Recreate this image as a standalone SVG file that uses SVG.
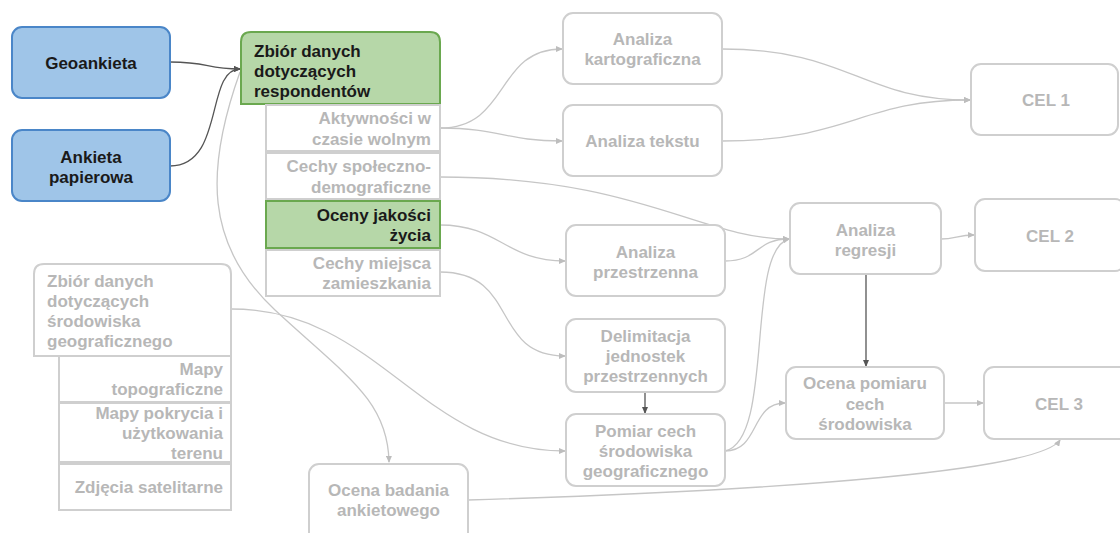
<svg xmlns="http://www.w3.org/2000/svg" width="1120" height="533" viewBox="0 0 1120 533">
<style>
text{font-family:"Liberation Sans",Arial,sans-serif;font-weight:bold;font-size:17px}
.t{fill:#b7b7b7}
.d{fill:#1a1a1a}
.c{text-anchor:middle}
.r{text-anchor:end}
.g{fill:#fff;stroke:#cfcfcf;stroke-width:2}
.blue{fill:#9fc5e8;stroke:#4a86c8;stroke-width:2}
.green{fill:#b6d7a8;stroke:#6aa84f;stroke-width:2}
.lc{fill:none;stroke:#c6c6c6;stroke-width:1.3}
.ld{fill:none;stroke:#555;stroke-width:1.3}
</style>
<defs>
<marker id="ag" markerWidth="7" markerHeight="6" refX="6" refY="3" orient="auto" markerUnits="userSpaceOnUse"><path d="M0,0 L7,3 L0,6 Z" fill="#bdbdbd"/></marker>
<marker id="ad" markerWidth="7" markerHeight="6" refX="6" refY="3" orient="auto" markerUnits="userSpaceOnUse"><path d="M0,0 L7,3 L0,6 Z" fill="#555"/></marker>
</defs>
<rect width="1120" height="533" fill="#fff"/>

<g id="connectors">
<path class="ld" d="M170 62 C210 62 205 69 240 69" marker-end="url(#ad)"/>
<path class="ld" d="M170 166 C225 166 205 69 240 69" marker-end="url(#ad)"/>
<path class="lc" d="M240 72 C205 170 205 245 275 310 S388 400 389 462" marker-end="url(#ag)"/>
<path class="lc" d="M440 128 C510 128 495 49 562 49" marker-end="url(#ag)"/>
<path class="lc" d="M440 128 C500 128 505 141 562 141" marker-end="url(#ag)"/>
<path class="lc" d="M440 177 C640 177 700 239 789 239" marker-end="url(#ag)"/>
<path class="lc" d="M440 225 C500 225 505 261 565 261" marker-end="url(#ag)"/>
<path class="lc" d="M440 272 C520 272 490 356 565 356" marker-end="url(#ag)"/>
<path class="lc" d="M231 309 C380 309 420 451 565 451" marker-end="url(#ag)"/>
<path class="lc" d="M722 49 C850 49 860 100 970 100" marker-end="url(#ag)"/>
<path class="lc" d="M722 141 C850 141 860 100 970 100" marker-end="url(#ag)"/>
<path class="lc" d="M725 261 C760 261 755 239 789 239" marker-end="url(#ag)"/>
<path class="lc" d="M725 451 C775 440 745 250 789 239" marker-end="url(#ag)"/>
<path class="lc" d="M725 451 C760 451 750 403 785 403" marker-end="url(#ag)"/>
<path class="lc" d="M941 239 C955 239 958 235 974 235" marker-end="url(#ag)"/>
<path class="lc" d="M944 403 L983 403" marker-end="url(#ag)"/>
<path class="lc" d="M468 500 C800 490 1040 470 1060 440" marker-end="url(#ag)"/>
<path class="ld" d="M645 392 L645 413" marker-end="url(#ad)"/>
<path class="ld" d="M866 274 L866 366" marker-end="url(#ad)"/>
</g>

<g id="geoankieta">
<rect class="blue" x="12" y="27" width="158" height="71" rx="10"/>
<text class="d c" x="91" y="69">Geoankieta</text>
</g>
<g id="ankieta-papierowa">
<rect class="blue" x="12" y="130" width="158" height="71" rx="10"/>
<text class="d c" x="91" y="162.5">Ankieta</text>
<text class="d c" x="91" y="182.5">papierowa</text>
</g>

<g id="zbior-respondentow">
<path class="green" d="M241 104 V42 Q241 32 251 32 H430 Q440 32 440 42 V104 Z"/>
<text class="d" x="254" y="56.5">Zbiór danych</text>
<text class="d" x="254" y="76.5">dotyczących</text>
<text class="d" x="254" y="96.5">respondentów</text>
</g>
<g id="aktywnosci">
<rect class="g" x="266" y="105" width="174" height="46"/>
<text class="t r" x="431" y="124">Aktywności w</text>
<text class="t r" x="431" y="145">czasie wolnym</text>
</g>
<g id="cechy-spoleczno">
<rect class="g" x="266" y="153" width="174" height="46"/>
<text class="t r" x="431" y="172">Cechy społeczno-</text>
<text class="t r" x="431" y="193">demograficzne</text>
</g>
<g id="oceny-jakosci">
<rect class="green" x="266" y="201" width="174" height="47"/>
<text class="d r" x="431" y="221">Oceny jakości</text>
<text class="d r" x="431" y="241">życia</text>
</g>
<g id="cechy-miejsca">
<rect class="g" x="266" y="250" width="174" height="46"/>
<text class="t r" x="431" y="268.5">Cechy miejsca</text>
<text class="t r" x="431" y="288.5">zamieszkania</text>
</g>

<g id="zbior-srodowiska">
<path class="g" d="M34 356 V274 Q34 264 44 264 H221 Q231 264 231 274 V356 Z"/>
<text class="t" x="47" y="287">Zbiór danych</text>
<text class="t" x="47" y="307">dotyczących</text>
<text class="t" x="47" y="327">środowiska</text>
<text class="t" x="47" y="347">geograficznego</text>
</g>
<g id="mapy-topograficzne">
<rect class="g" x="59" y="356" width="172" height="46"/>
<text class="t r" x="223" y="374.5">Mapy</text>
<text class="t r" x="223" y="394.5">topograficzne</text>
</g>
<g id="mapy-pokrycia">
<rect class="g" x="59" y="403" width="172" height="59"/>
<text class="t r" x="223" y="418.5">Mapy pokrycia i</text>
<text class="t r" x="223" y="439">użytkowania</text>
<text class="t r" x="223" y="459">terenu</text>
</g>
<g id="zdjecia-satelitarne">
<rect class="g" x="59" y="464" width="172" height="46"/>
<text class="t r" x="223" y="493">Zdjęcia satelitarne</text>
</g>

<g id="ocena-badania">
<rect class="g" x="309" y="464" width="159" height="80" rx="10"/>
<text class="t c" x="388.5" y="496">Ocena badania</text>
<text class="t c" x="388.5" y="516">ankietowego</text>
</g>

<g id="analiza-kartograficzna">
<rect class="g" x="563" y="13" width="159" height="71" rx="10"/>
<text class="t c" x="642.5" y="45">Analiza</text>
<text class="t c" x="642.5" y="65">kartograficzna</text>
</g>
<g id="analiza-tekstu">
<rect class="g" x="563" y="105" width="159" height="71" rx="10"/>
<text class="t c" x="642.5" y="147">Analiza tekstu</text>
</g>
<g id="analiza-przestrzenna">
<rect class="g" x="566" y="225" width="159" height="71" rx="10"/>
<text class="t c" x="645.5" y="258">Analiza</text>
<text class="t c" x="645.5" y="278">przestrzenna</text>
</g>
<g id="delimitacja">
<rect class="g" x="566" y="319" width="159" height="73" rx="10"/>
<text class="t c" x="645.5" y="342">Delimitacja</text>
<text class="t c" x="645.5" y="362">jednostek</text>
<text class="t c" x="645.5" y="382">przestrzennych</text>
</g>
<g id="pomiar-cech">
<rect class="g" x="566" y="414" width="159" height="72" rx="10"/>
<text class="t c" x="645.5" y="437">Pomiar cech</text>
<text class="t c" x="645.5" y="457">środowiska</text>
<text class="t c" x="645.5" y="477">geograficznego</text>
</g>
<g id="analiza-regresji">
<rect class="g" x="790" y="203" width="151" height="71" rx="10"/>
<text class="t c" x="865.5" y="236">Analiza</text>
<text class="t c" x="865.5" y="256">regresji</text>
</g>
<g id="ocena-pomiaru">
<rect class="g" x="786" y="367" width="158" height="72" rx="10"/>
<text class="t c" x="865" y="389">Ocena pomiaru</text>
<text class="t c" x="865" y="409.5">cech</text>
<text class="t c" x="865" y="430">środowiska</text>
</g>
<g id="cel-1">
<rect class="g" x="971" y="64" width="147" height="71" rx="10"/>
<text class="t c" x="1046" y="106">CEL 1</text>
</g>
<g id="cel-2">
<rect class="g" x="975" y="199" width="150" height="72" rx="10"/>
<text class="t c" x="1050" y="242">CEL 2</text>
</g>
<g id="cel-3">
<rect class="g" x="984" y="367" width="150" height="72" rx="10"/>
<text class="t c" x="1059" y="410">CEL 3</text>
</g>
</svg>
